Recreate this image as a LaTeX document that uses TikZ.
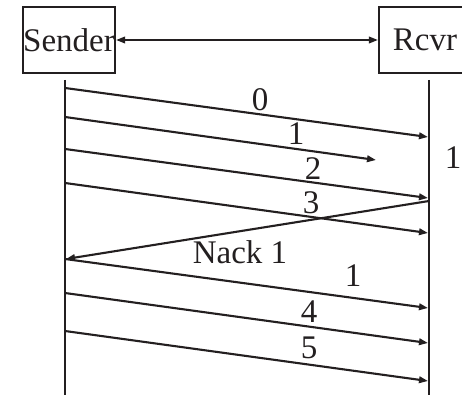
\documentclass[tikz,border=0pt]{standalone}
\usepackage{fontspec}
\setmainfont{Liberation Serif}
\usetikzlibrary{arrows.meta}
\definecolor{ink}{HTML}{231F20}
\begin{document}
\begin{tikzpicture}[x=1pt,y=-1pt,line width=2.1pt,color=ink,
  txt/.style={font=\fontsize{33}{36}\selectfont,text=ink,inner sep=0pt},
  box/.style={txt,draw=ink,line width=2.1pt,minimum width=92pt,minimum height=66pt},
  tip/.style={-{Triangle[length=9pt,width=6.5pt]}},
  dtip/.style={{Triangle[length=9pt,width=6.5pt]}-{Triangle[length=9pt,width=6.5pt]}},
  lbl/.style={txt}]
\useasboundingbox (0,0) rectangle (462,395);
% boxes
\node[box] (S) at (69,40) {Sender};
\node[box] (R) at (425,40) {Rcvr};
\draw[dtip,line width=1.8pt] (S.east) -- (R.west);
% lifelines
\coordinate (sa) at (65,80);
\coordinate (sb) at (65,396);
\coordinate (ra) at (429,80);
\coordinate (rb) at (429,396);
\draw (sa) -- (sb);
\draw (ra) -- (rb);
% message endpoints
\coordinate (s0) at (65,88);   \coordinate (r0) at (428,137);
\coordinate (s1) at (65,117);  \coordinate (e1) at (376,160);
\coordinate (s2) at (65,149);  \coordinate (r2) at (428,198);
\coordinate (s3) at (65,183);  \coordinate (r3) at (428,233);
\coordinate (rn) at (429,201); \coordinate (sn) at (66,259);
\coordinate (s1b) at (65,259); \coordinate (r1b) at (428,308);
\coordinate (s4) at (65,293);  \coordinate (r4) at (428,343);
\coordinate (s5) at (65,331);  \coordinate (r5) at (428,381);
\draw[tip] (s0) -- (r0);
\draw[tip] (s1) -- (e1);
\draw[tip] (s2) -- (r2);
\draw[tip] (s3) -- (r3);
\draw[tip] (rn) -- (sn);
\draw[tip] (s1b) -- (r1b);
\draw[tip] (s4) -- (r4);
\draw[tip] (s5) -- (r5);
% labels
\node[lbl] (l0) at (260,100) {0};
\node[lbl] (l1) at (296,134) {1};
\node[lbl] (lr) at (453,158) {1};
\node[lbl] (l2) at (313,169) {2};
\node[lbl] (l3) at (311,203) {3};
\node[lbl] (ln) at (240,252) {Nack 1};
\node[lbl] (l1b) at (353,276) {1};
\node[lbl] (l4) at (309,312) {4};
\node[lbl] (l5) at (309,348) {5};
\end{tikzpicture}
\end{document}
